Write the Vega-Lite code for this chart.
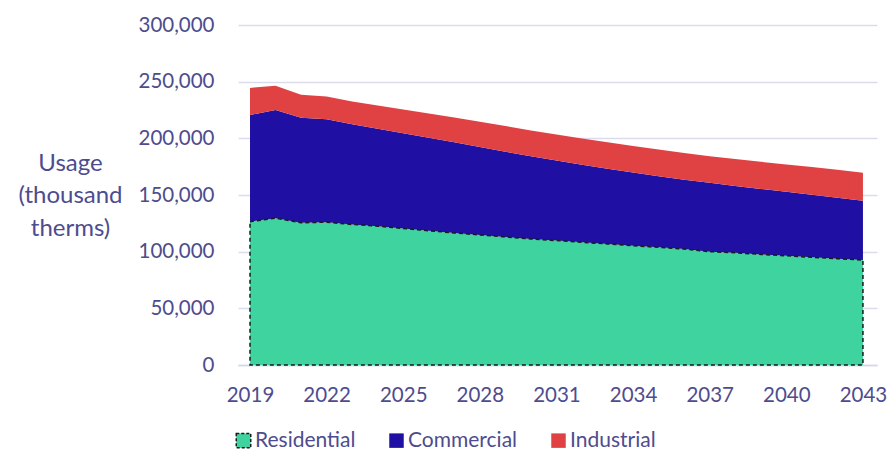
{
  "$schema": "https://vega.github.io/schema/vega-lite/v6.json",
  "width": 639,
  "height": 340,
  "autosize": {"type": "none"},
  "padding": {"left": 238, "top": 25, "right": 13, "bottom": 88},
  "background": "white",
  "config": {
    "view": {"stroke": null},
    "font": "Lato",
    "axis": {"labelColor": "#4E4C8E", "titleColor": "#4E4C8E", "labelFont": "Lato", "titleFont": "Lato", "titleFontWeight": "normal"},
    "legend": {"labelColor": "#4E4C8E", "labelFont": "Lato"}
  },
  "data": {
    "values": [
      {"year": 2019, "type": "Residential", "usage": 126500}, {"year": 2019, "type": "Commercial", "usage": 94100}, {"year": 2019, "type": "Industrial", "usage": 23900},
      {"year": 2020, "type": "Residential", "usage": 129500}, {"year": 2020, "type": "Commercial", "usage": 95500}, {"year": 2020, "type": "Industrial", "usage": 21500},
      {"year": 2021, "type": "Residential", "usage": 125500}, {"year": 2021, "type": "Commercial", "usage": 92700}, {"year": 2021, "type": "Industrial", "usage": 20300},
      {"year": 2022, "type": "Residential", "usage": 126000}, {"year": 2022, "type": "Commercial", "usage": 90800}, {"year": 2022, "type": "Industrial", "usage": 20200},
      {"year": 2023, "type": "Residential", "usage": 124000}, {"year": 2023, "type": "Commercial", "usage": 88500}, {"year": 2023, "type": "Industrial", "usage": 20000},
      {"year": 2024, "type": "Residential", "usage": 122500}, {"year": 2024, "type": "Commercial", "usage": 86000}, {"year": 2024, "type": "Industrial", "usage": 20500},
      {"year": 2025, "type": "Residential", "usage": 120500}, {"year": 2025, "type": "Commercial", "usage": 84000}, {"year": 2025, "type": "Industrial", "usage": 21000},
      {"year": 2026, "type": "Residential", "usage": 118500}, {"year": 2026, "type": "Commercial", "usage": 82000}, {"year": 2026, "type": "Industrial", "usage": 21500},
      {"year": 2027, "type": "Residential", "usage": 116500}, {"year": 2027, "type": "Commercial", "usage": 80000}, {"year": 2027, "type": "Industrial", "usage": 21800},
      {"year": 2028, "type": "Residential", "usage": 114800}, {"year": 2028, "type": "Commercial", "usage": 77500}, {"year": 2028, "type": "Industrial", "usage": 22300},
      {"year": 2029, "type": "Residential", "usage": 113000}, {"year": 2029, "type": "Commercial", "usage": 75200}, {"year": 2029, "type": "Industrial", "usage": 22600},
      {"year": 2030, "type": "Residential", "usage": 111200}, {"year": 2030, "type": "Commercial", "usage": 73100}, {"year": 2030, "type": "Industrial", "usage": 22700},
      {"year": 2031, "type": "Residential", "usage": 109800}, {"year": 2031, "type": "Commercial", "usage": 70700}, {"year": 2031, "type": "Industrial", "usage": 22800},
      {"year": 2032, "type": "Residential", "usage": 108300}, {"year": 2032, "type": "Commercial", "usage": 68400}, {"year": 2032, "type": "Industrial", "usage": 23100},
      {"year": 2033, "type": "Residential", "usage": 106800}, {"year": 2033, "type": "Commercial", "usage": 66400}, {"year": 2033, "type": "Industrial", "usage": 23300},
      {"year": 2034, "type": "Residential", "usage": 105300}, {"year": 2034, "type": "Commercial", "usage": 64500}, {"year": 2034, "type": "Industrial", "usage": 23500},
      {"year": 2035, "type": "Residential", "usage": 103800}, {"year": 2035, "type": "Commercial", "usage": 62700}, {"year": 2035, "type": "Industrial", "usage": 23700},
      {"year": 2036, "type": "Residential", "usage": 102300}, {"year": 2036, "type": "Commercial", "usage": 61200}, {"year": 2036, "type": "Industrial", "usage": 23500},
      {"year": 2037, "type": "Residential", "usage": 100000}, {"year": 2037, "type": "Commercial", "usage": 60800}, {"year": 2037, "type": "Industrial", "usage": 23500},
      {"year": 2038, "type": "Residential", "usage": 99000}, {"year": 2038, "type": "Commercial", "usage": 59000}, {"year": 2038, "type": "Industrial", "usage": 23800},
      {"year": 2039, "type": "Residential", "usage": 97600}, {"year": 2039, "type": "Commercial", "usage": 57800}, {"year": 2039, "type": "Industrial", "usage": 23900},
      {"year": 2040, "type": "Residential", "usage": 96400}, {"year": 2040, "type": "Commercial", "usage": 56400}, {"year": 2040, "type": "Industrial", "usage": 24200},
      {"year": 2041, "type": "Residential", "usage": 95000}, {"year": 2041, "type": "Commercial", "usage": 55300}, {"year": 2041, "type": "Industrial", "usage": 24300},
      {"year": 2042, "type": "Residential", "usage": 93800}, {"year": 2042, "type": "Commercial", "usage": 53800}, {"year": 2042, "type": "Industrial", "usage": 24600},
      {"year": 2043, "type": "Residential", "usage": 92600}, {"year": 2043, "type": "Commercial", "usage": 52400}, {"year": 2043, "type": "Industrial", "usage": 24700}
    ]
  },
  "encoding": {
    "x": {
      "field": "year", "type": "quantitative",
      "scale": {"domain": [2018.53, 2043.55], "nice": false, "zero": false},
      "axis": {
        "title": null, "values": [2019, 2022, 2025, 2028, 2031, 2034, 2037, 2040, 2043], "format": "d",
        "labelFontSize": 20.5, "labelPadding": 20, "ticks": false, "grid": false,
        "domainColor": "#D6D5EA", "domainWidth": 1.5, "labelFlush": false
      }
    }
  },
  "layer": [
    {
      "transform": [{"calculate": "indexof(['Residential', 'Commercial', 'Industrial'], datum.type)", "as": "stackRank"}],
      "mark": {"type": "area", "interpolate": "linear"},
      "encoding": {
        "y": {
          "field": "usage", "type": "quantitative", "stack": "zero",
          "scale": {"domain": [0, 300000], "nice": false},
          "axis": {
            "title": ["Usage", "(thousand", "therms)"], "titleAngle": 0, "titleAlign": "center", "titleBaseline": "middle",
            "titleX": -168, "titleY": 138, "titleFontSize": 24, "titleLineHeight": 32.5,
            "values": [0, 50000, 100000, 150000, 200000, 250000, 300000], "format": ",d",
            "labelFontSize": 20.5, "labelPadding": 24, "ticks": false, "domain": false,
            "grid": true, "gridColor": "#DCDBEE", "gridWidth": 1.5
          }
        },
        "color": {
          "field": "type", "type": "nominal", "sort": ["Residential", "Commercial", "Industrial"],
          "scale": {"domain": ["Residential", "Commercial", "Industrial"], "range": ["#3ED39F", "#1F10A3", "#E04243"]},
          "legend": {
            "title": null, "orient": "none", "direction": "horizontal", "legendX": -5, "legendY": 405,
            "symbolType": "square", "symbolSize": 210, "labelFontSize": 21, "labelOffset": 1, "columnPadding": 30,
            "symbolStrokeWidth": 1.5,
            "encode": {
              "symbols": {
                "update": {
                  "stroke": {"signal": "datum.value === 'Residential' ? '#1a1a1a' : 'transparent'"},
                  "strokeDash": {"signal": "datum.value === 'Residential' ? [3, 2] : [1, 0]"}
                }
              }
            }
          }
        },
        "order": {"field": "stackRank", "type": "quantitative"}
      }
    },
    {
      "transform": [{"filter": "datum.type === 'Residential'"}],
      "mark": {"type": "area", "interpolate": "linear", "fillOpacity": 0, "stroke": "#1a1a1a", "strokeWidth": 1.5, "strokeDash": [4, 3]},
      "encoding": {
        "y": {"field": "usage", "type": "quantitative", "stack": null}
      }
    }
  ]
}
